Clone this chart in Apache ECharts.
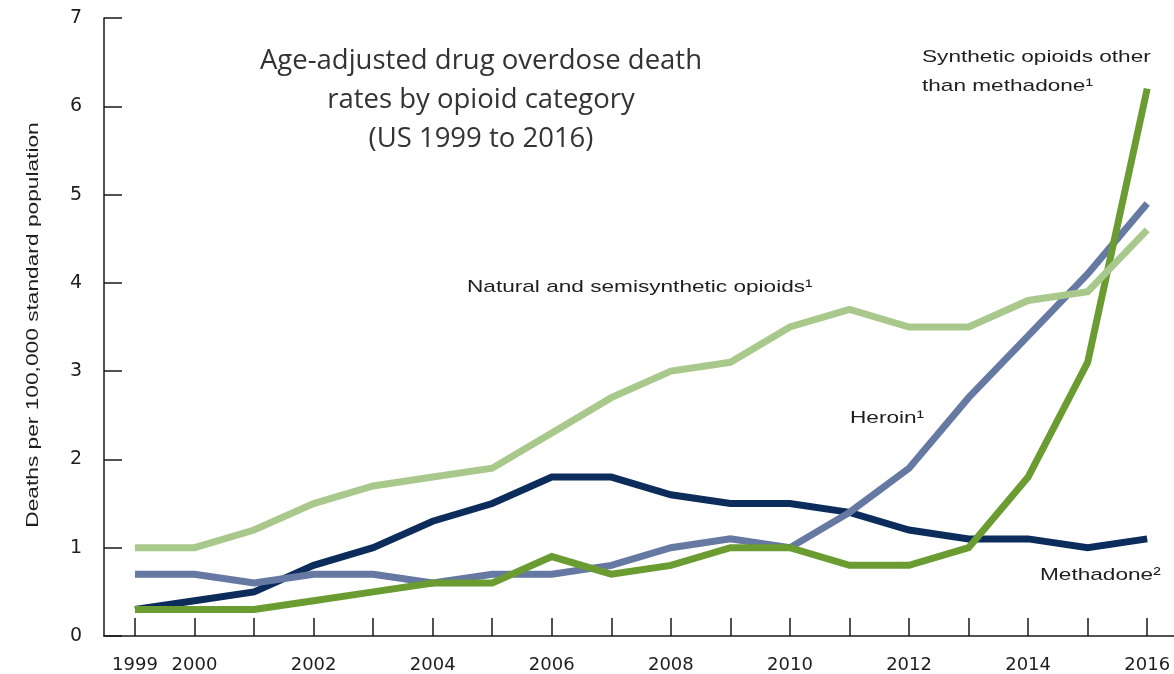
<!DOCTYPE html>
<html>
<head>
<meta charset="utf-8">
<script src="https://cdn.jsdelivr.net/npm/echarts@6/dist/echarts.min.js"></script>
<style>
html,body{margin:0;padding:0;background:#fff;}
#chart{width:1174px;height:674px;}
</style>
</head>
<body>
<div id="chart"></div>
<script>
const years = [1999,2000,2001,2002,2003,2004,2005,2006,2007,2008,2009,2010,2011,2012,2013,2014,2015,2016];
const tickYears = years;
const labelYears = [1999,2000,2002,2004,2006,2008,2010,2012,2014,2016];
const natural   = [1.0,1.0,1.2,1.5,1.7,1.8,1.9,2.3,2.7,3.0,3.1,3.5,3.7,3.5,3.5,3.8,3.9,4.6];
const heroin    = [0.7,0.7,0.6,0.7,0.7,0.6,0.7,0.7,0.8,1.0,1.1,1.0,1.4,1.9,2.7,3.4,4.1,4.9];
const methadone = [0.3,0.4,0.5,0.8,1.0,1.3,1.5,1.8,1.8,1.6,1.5,1.5,1.4,1.2,1.1,1.1,1.0,1.1];
const synthetic = [0.3,0.3,0.3,0.4,0.5,0.6,0.6,0.9,0.7,0.8,1.0,1.0,0.8,0.8,1.0,1.8,3.1,6.2];

const pair = arr => years.map((y,i)=>[y,arr[i]]);
const chart = echarts.init(document.getElementById('chart'));
const axisColor = '#1a1a1a';
const arial = 'Liberation Sans, Arial, sans-serif';
const tickFont = {fontFamily:'DejaVu Sans, sans-serif', color:'#1e1e1e'};

function line(name, data, color, z){
  return {name, type:'line', data:pair(data), symbol:'none', z,
    lineStyle:{color, width:7, cap:'butt', join:'miter'}, itemStyle:{color}, animation:false};
}
function note(text, x, y, opts){
  return Object.assign({type:'text', x, y, scaleX:1.33, scaleY:1,
    style:{text, fontFamily:arial, fontSize:17, fill:'#1e1e1e', verticalAlign:'middle', lineHeight:29}}, opts||{});
}

chart.setOption({
  animation:false,
  grid:{left:104, right:0, top:18, bottom:38, containLabel:false},
  xAxis:{type:'value', min:1998.48, max:2016.45,
    axisLine:{show:true, onZero:false, lineStyle:{color:axisColor, width:1.5}},
    axisTick:{show:true, inside:true, length:18, customValues:tickYears, lineStyle:{color:axisColor, width:1.5}},
    axisLabel:{customValues:labelYears, margin:20, fontSize:18, ...tickFont, formatter:v=>String(v)},
    splitLine:{show:false}},
  yAxis:{type:'value', min:0, max:7, interval:1,
    axisLine:{show:true, lineStyle:{color:axisColor, width:1.5}},
    axisTick:{show:true, inside:true, length:18, lineStyle:{color:axisColor, width:1.5}},
    axisLabel:{margin:22, fontSize:19, ...tickFont},
    splitLine:{show:false}},
  series:[
    line('Methadone', methadone, '#0c2d5c', 2),
    line('Heroin', heroin, '#6679a3', 3),
    line('Synthetic opioids other than methadone', synthetic, '#6a9c32', 4),
    line('Natural and semisynthetic opioids', natural, '#a9c98c', 5)
  ],
  graphic:[
    {type:'text', x:481, y:42, style:{text:'Age-adjusted drug overdose death\nrates by opioid category\n(US 1999 to 2016)', align:'center', fontFamily:'Open Sans, sans-serif', fontSize:27.5, lineHeight:39, fill:'#333'}},
    {type:'text', x:34, y:325, rotation:Math.PI/2, scaleX:1.42, scaleY:1,
      style:{text:'Deaths per 100,000 standard population', align:'center', verticalAlign:'middle', fontFamily:arial, fontSize:16, fill:'#1e1e1e'}},
    note('Natural and semisynthetic opioids\u00b9', 467, 287),
    note('Heroin\u00b9', 850, 418),
    note('Methadone\u00b2', 1040, 575),
    note('Synthetic opioids other\nthan methadone\u00b9', 922, 72)
  ]
});
</script>
</body>
</html>
